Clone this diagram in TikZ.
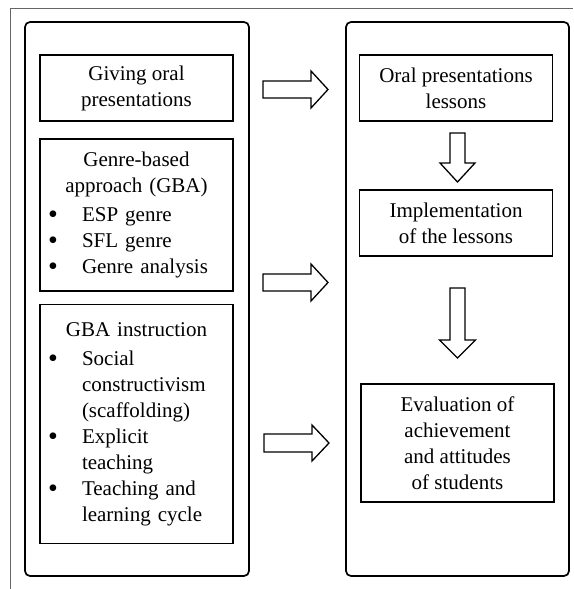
\documentclass[tikz,border=0pt]{standalone}
\usepackage{fontspec}
\setmainfont{Liberation Serif}
% bullet line with hanging indent
\newcommand{\bitem}{\par\hangindent=34pt\hangafter=1\noindent
  \makebox[34pt][l]{\raisebox{-2pt}[0pt][0pt]{\fontsize{28}{26}\selectfont\textbullet}}}
\tikzset{
  frame/.style={draw, line width=1.7pt, rounded corners=5pt},
  box/.style={draw, line width=1.7pt, minimum width=193pt, inner xsep=8pt, inner ysep=0pt},
  blockarr/.style={draw, line width=1.3pt, line join=miter},
}
\begin{document}
\begin{tikzpicture}[x=1pt,y=-1pt,font=\fontsize{21}{26}\selectfont]
\useasboundingbox (0,0) rectangle (573,589);
\draw[gray!80!black, line width=1pt] (10.5,589) -- (10.5,8) -- (573,8);
\draw[frame] (25,22) rectangle (249,576);
\draw[frame] (346,22) rectangle (569,576);
% left column
\node[box, minimum height=66pt, align=center] (giving) at (136.5,88) {Giving oral\\presentations};
\node[box, minimum height=152pt, text width=177pt] (gba) at (136.5,215)
  {{\centering Genre-based\\approach (GBA)\par}\vspace{3pt}\raggedright
   \bitem ESP genre
   \bitem SFL genre
   \bitem Genre analysis\par};
\node[box, minimum height=239pt, text width=177pt] (instr) at (136.5,424)
  {{\centering GBA instruction\par}\vspace{3pt}\raggedright
   \bitem Social\newline constructivism\newline (scaffolding)
   \bitem Explicit\newline teaching
   \bitem Teaching and\newline learning cycle\par};
% right column
\node[box, minimum height=66pt, align=center] (lessons) at (456,88) {Oral presentations\\lessons};
\node[box, minimum height=66pt, align=center] (impl) at (456,223) {Implementation\\of the lessons};
\node[box, minimum width=193pt, minimum height=118pt, align=center] (eval) at (457.5,443)
  {Evaluation of\\achievement\\and attitudes\\of students};
% block arrows
\draw[blockarr] (263,81) -- (311,81) -- (311,71) -- (328,89.5) -- (311,108) -- (311,98) -- (263,98) -- cycle;
\draw[blockarr] (263,274) -- (311,274) -- (311,264) -- (328,282.5) -- (311,301) -- (311,291) -- (263,291) -- cycle;
\draw[blockarr] (264,434) -- (312,434) -- (312,425) -- (329,443) -- (312,461) -- (312,452) -- (264,452) -- cycle;
\draw[blockarr] (450,133) -- (465,133) -- (465,163) -- (475,163) -- (457.5,182) -- (440,163) -- (450,163) -- cycle;
\draw[blockarr] (450,288) -- (465,288) -- (465,340) -- (475.5,340) -- (457.5,358) -- (439.5,340) -- (450,340) -- cycle;
\end{tikzpicture}
\end{document}
